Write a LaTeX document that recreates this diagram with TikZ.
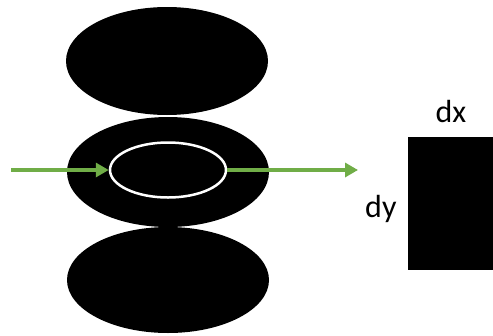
\documentclass[tikz,border=0pt]{standalone}
\usepackage{fontspec}
\setmainfont{Carlito}
\usetikzlibrary{arrows.meta,shapes.geometric}
\definecolor{arrowgreen}{RGB}{112,173,71}
\tikzset{
  blob/.style={fill=black, draw=none},
  flow/.style={draw=arrowgreen, line width=4pt, -{Triangle[length=13pt,width=14pt]}},
  lbl/.style={font=\fontsize{32}{38}\selectfont, inner sep=0pt}
}
\begin{document}
\begin{tikzpicture}[x=1pt,y=-1pt]
\useasboundingbox (0,0) rectangle (493,335);
\fill[white] (0,0) rectangle (493,335);
\path[blob] (167,61) ellipse [x radius=101, y radius=54];
\path[blob] (168,172) ellipse [x radius=101, y radius=55];
\path[blob] (168,280) ellipse [x radius=101, y radius=53];
\node[draw=white, line width=2.5pt, ellipse, minimum width=116pt, minimum height=55pt, inner sep=0pt] (inner) at (168,170) {};
\coordinate (start) at (11,170);
\coordinate (stop) at (358,170);
\draw[flow] (start) -- (inner.west);
\draw[flow] (inner.east) -- (stop);
\node[blob, minimum width=90pt, minimum height=133pt, inner sep=0pt, anchor=north west] (rect) at (408,137) {};
\node[lbl, anchor=base] (dx) at (451,122) {dx};
\node[lbl, anchor=base west] (dy) at (365,217) {dy};
\end{tikzpicture}
\end{document}
